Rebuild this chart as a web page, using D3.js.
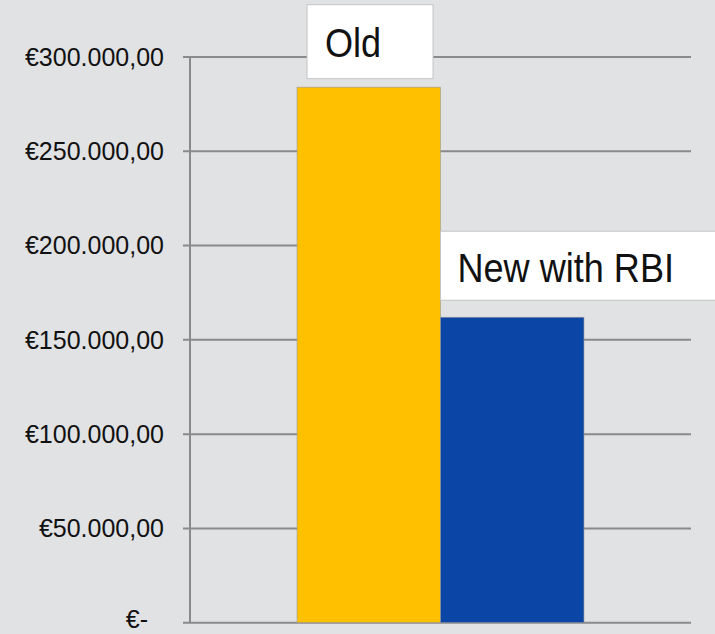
<!DOCTYPE html>
<html>
<head>
<meta charset="utf-8">
<script src="https://cdn.jsdelivr.net/npm/d3@7"></script>
<style>
  html, body { margin: 0; padding: 0; background: #e1e2e4; }
  svg { display: block; }
  text { font-family: "Liberation Sans", Arial, sans-serif; fill: #111; }
</style>
</head>
<body>
<div id="chart"></div>
<script>
// data
const categories = ['Old', 'New with RBI'];
const values = [284000, 162000];
const colors = ['#ffc000', '#0b45a6'];
const tickValues = [0, 50000, 100000, 150000, 200000, 250000, 300000];

const width = 715, height = 634;
const margin = {top: 57, right: 24, bottom: 11.3, left: 190};

const svg = d3.select('#chart').append('svg')
    .attr('width', width)
    .attr('height', height);

svg.append('rect')
    .attr('width', width)
    .attr('height', height)
    .attr('fill', '#e1e2e4');

const y = d3.scaleLinear()
    .domain([0, 300000])
    .range([height - margin.bottom, margin.top]);

const x = d3.scaleBand()
    .domain(categories)
    .range([margin.left, width - margin.right])
    .paddingInner(0)
    .paddingOuter(0.746);

// number format like "€250.000,00"
const euro = d3.formatLocale({decimal: ',', thousands: '.', grouping: [3], currency: ['€', '']});
const fmt = euro.format('$,.2f');

// gridlines
svg.append('g')
    .selectAll('line')
    .data(tickValues)
    .join('line')
    .attr('x1', margin.left - 7)
    .attr('x2', width - margin.right)
    .attr('y1', d => y(d))
    .attr('y2', d => y(d))
    .attr('stroke', '#8a8a8a')
    .attr('stroke-width', 2);

// y axis line
svg.append('line')
    .attr('x1', margin.left)
    .attr('x2', margin.left)
    .attr('y1', y(300000))
    .attr('y2', y(0))
    .attr('stroke', '#8a8a8a')
    .attr('stroke-width', 2);

// tick labels (zero label nudged up so it stays inside the page)
svg.append('g')
    .selectAll('text')
    .data(tickValues)
    .join('text')
    .attr('x', d => d === 0 ? 148 : 164)
    .attr('y', d => d === 0 ? y(d) - 3 : y(d))
    .attr('dy', '0.35em')
    .attr('text-anchor', 'end')
    .attr('font-size', 25)
    .text(d => d === 0 ? '€-' : fmt(d));

// bars
svg.append('g')
    .selectAll('rect')
    .data(categories)
    .join('rect')
    .attr('x', d => x(d))
    .attr('y', (d, i) => y(values[i]))
    .attr('width', x.bandwidth())
    .attr('height', (d, i) => y(0) - y(values[i]))
    .attr('fill', (d, i) => colors[i])
    .attr('stroke', '#999')
    .attr('stroke-width', 0.6);

// data labels (white boxes)
const labelBoxes = [
    {dx: 10, w: 126, h: 74, gap: 8.5, tx: 18, ty: 52},
    {dx: 0, w: 290, h: 69, gap: 17, tx: 17, ty: 51}
];

const labels = svg.append('g')
    .selectAll('g')
    .data(categories)
    .join('g')
    .attr('transform', (d, i) => 'translate(' + [x(d) + labelBoxes[i].dx, y(values[i]) - labelBoxes[i].gap - labelBoxes[i].h] + ')');

labels.append('rect')
    .attr('width', (d, i) => labelBoxes[i].w)
    .attr('height', (d, i) => labelBoxes[i].h)
    .attr('fill', '#fff')
    .attr('stroke', '#c4c4c4')
    .attr('stroke-width', 1);

labels.append('text')
    .attr('transform', (d, i) => 'translate(' + [labelBoxes[i].tx, labelBoxes[i].ty] + ') scale(0.88,1)')
    .attr('font-size', 41)
    .text(d => d);
</script>
</body>
</html>
